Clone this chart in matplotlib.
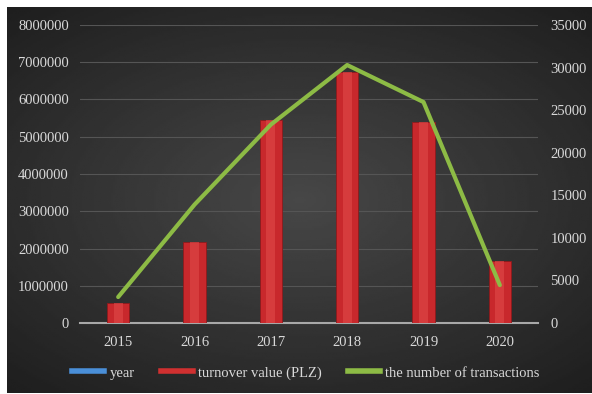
import numpy as np
import matplotlib
matplotlib.use("Agg")
import matplotlib.pyplot as plt
from matplotlib.lines import Line2D

years = ["2015", "2016", "2017", "2018", "2019", "2020"]
turnover = [540000, 2180000, 5450000, 6740000, 5400000, 1660000]
transactions = [3050, 13900, 23300, 30300, 25950, 4450]

plt.rcParams['font.family'] = ['Liberation Serif', 'DejaVu Serif']
txt = '#d9d9d9'

fig = plt.figure(figsize=(5.92, 3.94), dpi=100)
fig.patch.set_facecolor('white')

# dark gradient background panel
bg = fig.add_axes([7/592, 1/394, 585/592, 386/394])
yy, xx = np.mgrid[-1:1:200j, -1:1:300j]
r = np.sqrt((xx * 0.9) ** 2 + (yy * 1.0) ** 2)
g = np.clip(0.28 - 0.12 * r, 0.1, 0.3)
bg.imshow(g, cmap='gray', vmin=0, vmax=1, aspect='auto', extent=[0, 1, 0, 1])
bg.axis('off')

ax = fig.add_axes([80/592, (394-323)/394, 458/592, 298/394])
ax.patch.set_alpha(0)
x = np.arange(len(years))
ax.bar(x, turnover, width=0.29, color='#c8282c', edgecolor='#8e1a1c', linewidth=0.6, zorder=3)
ax.bar(x, turnover, width=0.12, color='#e04a4a', linewidth=0, zorder=3, alpha=0.6)
ax.set_xlim(-0.5, 5.5)
ax.set_ylim(0, 8000000)
ax.set_yticks(np.arange(0, 8000001, 1000000))
ax.set_yticklabels([str(v) for v in range(0, 8000001, 1000000)])
ax.set_xticks(x)
ax.set_xticklabels(years)
ax.grid(axis='y', color='#555555', linewidth=0.8, zorder=0)
for s in ['top', 'right', 'left']:
    ax.spines[s].set_visible(False)
ax.spines['bottom'].set_color('#a8a8a8')
ax.spines['bottom'].set_linewidth(1.5)
ax.tick_params(length=0, colors=txt, labelsize=10.5, pad=8)
ax.tick_params(axis='x', pad=9)

ax2 = ax.twinx()
ax2.plot(x, transactions, color='#8dbb45', linewidth=3, solid_capstyle='round', zorder=4)
ax2.set_ylim(0, 35000)
ax2.set_yticks(np.arange(0, 35001, 5000))
for s in ax2.spines.values():
    s.set_visible(False)
ax2.tick_params(length=0, colors=txt, labelsize=10.5, pad=9)

handles = [Line2D([], [], color='#4a8fd8', linewidth=4),
           Line2D([], [], color='#d03030', linewidth=4),
           Line2D([], [], color='#8dbb45', linewidth=4)]
labels = ['year', 'turnover value (PLZ)', 'the number of transactions']
fig.legend(handles, labels, loc='center', bbox_to_anchor=(0.517, 21/394), ncol=3,
           frameon=False, fontsize=10.5, labelcolor=txt, handlelength=2.2,
           handletextpad=0.35, columnspacing=1.8)

fig.savefig('out.png', dpi=100)
